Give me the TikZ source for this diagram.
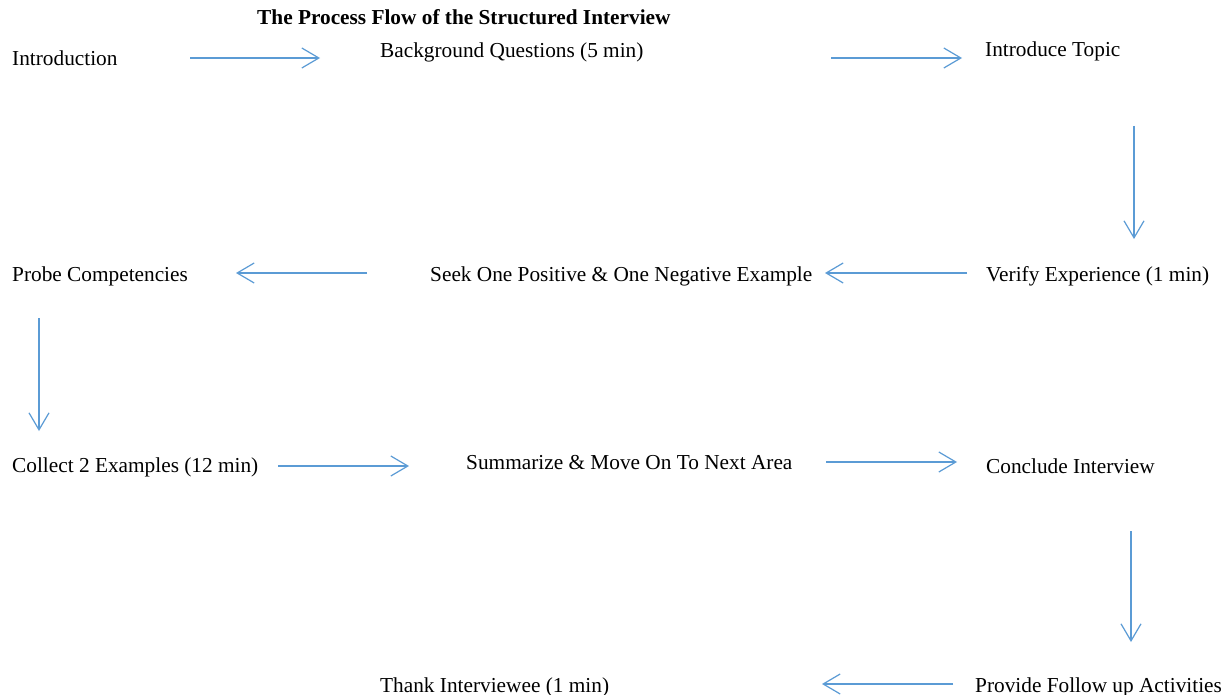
\documentclass[tikz,border=0pt]{standalone}
\usepackage{fontspec}
\setmainfont{Liberation Serif}
\usetikzlibrary{arrows.meta}
\definecolor{arrblue}{HTML}{5B9BD5}
\begin{document}
\begin{tikzpicture}[x=1pt,y=-1pt,
  lbl/.style={anchor=base west,inner sep=0pt,font=\fontsize{21.3}{25}\selectfont},
  ttl/.style={anchor=base west,inner sep=0pt,font=\fontsize{21.3}{25}\selectfont\bfseries},
  arr/.style={draw=arrblue,line width=1.2pt,-{Straight Barb[length=17pt,width=20pt,line width=1.2pt]}}]
\useasboundingbox[fill=white] (0,0) rectangle (1228,695);
\node[ttl] (title) at (257,25) {The Process Flow of the Structured Interview};
\node[lbl] (intro) at (12,66) {Introduction};
\node[lbl] (bg) at (380,58) {Background Questions (5 min)};
\node[lbl] (topic) at (985,57) {Introduce Topic};
\node[lbl] (probe) at (12,281) {Probe Competencies};
\node[lbl] (seek) at (430,281) {Seek One Positive \& One Negative Example};
\node[lbl] (verify) at (986,281) {Verify Experience (1 min)};
\node[lbl] (collect) at (12,472) {Collect 2 Examples (12 min)};
\node[lbl] (summ) at (466,469) {Summarize \& Move On To Next Area};
\node[lbl] (conclude) at (986,473) {Conclude Interview};
\node[lbl] (thank) at (380,692) {Thank Interviewee (1 min)};
\node[lbl] (provide) at (975,692) {Provide Follow up Activities};
\coordinate (a1s) at (190,58);  \coordinate (a1e) at (320,58);
\coordinate (a2s) at (831,58);  \coordinate (a2e) at (962,58);
\coordinate (a3s) at (1134,126); \coordinate (a3e) at (1134,239);
\coordinate (a4s) at (967,273); \coordinate (a4e) at (825,273);
\coordinate (a5s) at (367,273); \coordinate (a5e) at (236,273);
\coordinate (a6s) at (39,318);  \coordinate (a6e) at (39,431);
\coordinate (a7s) at (278,466); \coordinate (a7e) at (409,466);
\coordinate (a8s) at (826,462); \coordinate (a8e) at (957,462);
\coordinate (a9s) at (1131,531); \coordinate (a9e) at (1131,642);
\coordinate (a10s) at (953,684); \coordinate (a10e) at (822,684);
\foreach \i in {1,...,10} {\draw[arr] (a\i s) -- (a\i e);}
\end{tikzpicture}
\end{document}
